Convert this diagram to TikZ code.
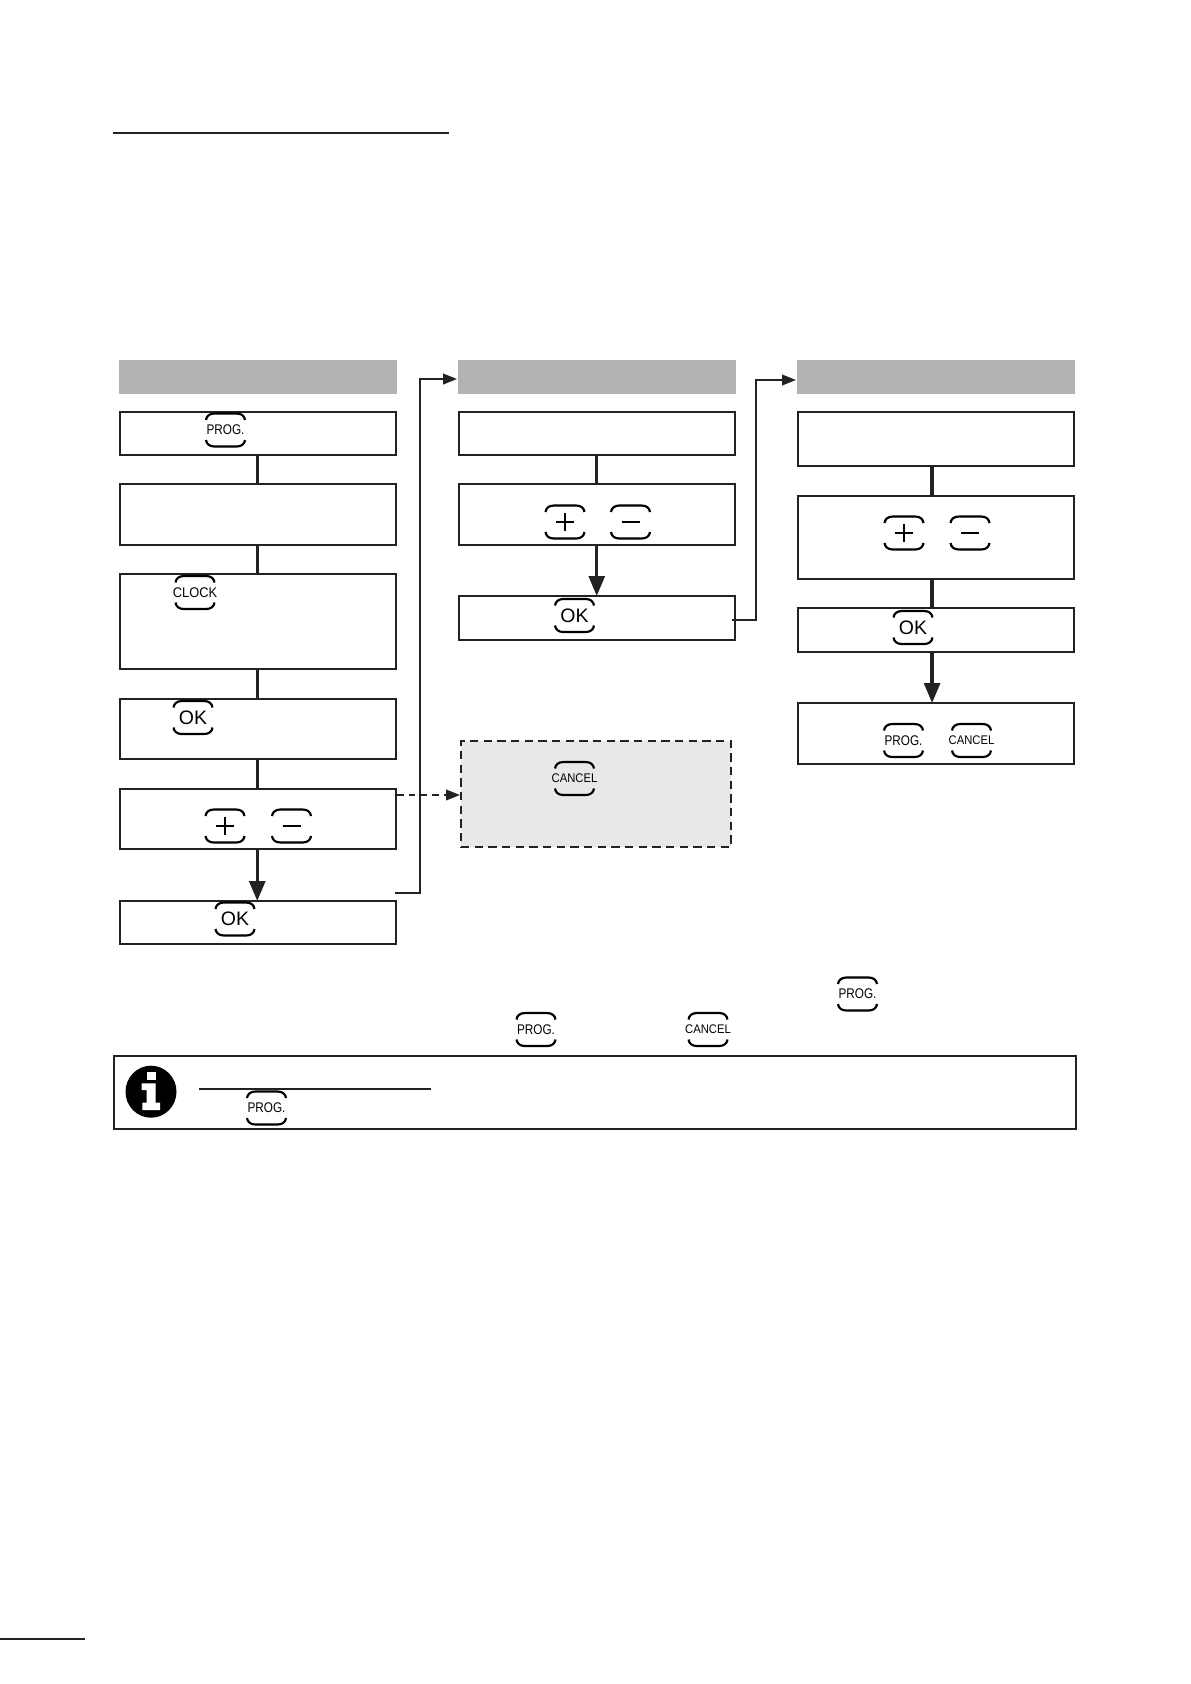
\documentclass[tikz,border=0pt]{standalone}
\usepackage{fontspec}
\setmainfont{Liberation Sans}
\usetikzlibrary{arrows.meta}
\definecolor{ink}{HTML}{222222}
\definecolor{hdr}{HTML}{B2B2B2}
\definecolor{dashfill}{HTML}{E8E8E8}
\tikzset{
  boxframe/.style={draw=ink,line width=1.2pt,fill=white,inner sep=0pt,outer sep=0pt,rectangle},
  hdrbar/.style={fill=hdr,draw=none,inner sep=0pt,outer sep=0pt,rectangle},
  dashbox/.style={draw=ink,line width=1.2pt,fill=dashfill,dash pattern=on 5pt off 3.2pt,inner sep=0pt,outer sep=0pt,rectangle},
  infobox/.style={draw=ink,line width=1.3pt,fill=white,inner sep=0pt,outer sep=0pt,rectangle},
  heavy/.style={draw=ink,line width=2pt},
  heavyarrow/.style={heavy,-{Triangle[length=12pt,width=9.5pt]}},
  thinarrow/.style={draw=ink,line width=1.1pt,-{Triangle[length=8.4pt,width=6.4pt]}},
  dasharrow/.style={draw=ink,line width=1pt,dash pattern=on 4pt off 3pt,-{Triangle[length=8.4pt,width=6.4pt]}},
  rulebar/.style={draw=ink,line width=1.1pt},
  capline/.style={draw=black,line width=1.3pt},
  keylabel/.style={inner sep=0pt,outer sep=0pt,text=black,transform shape},
  progkey/.style={keylabel,font=\fontsize{8.4pt}{8.4pt}\selectfont,xscale=.84},
  clockkey/.style={keylabel,font=\fontsize{8.4pt}{8.4pt}\selectfont,xscale=.92},
  cancelkey/.style={keylabel,font=\fontsize{7.5pt}{7.5pt}\selectfont,xscale=.9},
  okkey/.style={keylabel,font=\fontsize{11.7pt}{11.7pt}\selectfont},
  signline/.style={draw=black,line width=.8pt},
}
% position-only helper: name, x1,y1,x2,y2 (reference pixels), style
\newcommand{\bx}[6]{\node[#6,minimum width={(#4-#2)*0.6pt},minimum height={(#5-#3)*0.6pt}] (#1) at ({(#2+#4)/2},{(#3+#5)/2}) {};}
\newcommand{\caparcs}[2]{%
  \draw[capline] (#1-19.5,#2-10) .. controls (#1-19,#2-14) and (#1-16,#2-16.5) .. (#1-11,#2-16.5) -- (#1+11,#2-16.5) .. controls (#1+16,#2-16.5) and (#1+19,#2-14) .. (#1+19.5,#2-10);
  \draw[capline] (#1-19.5,#2+10) .. controls (#1-19,#2+14) and (#1-16,#2+16.5) .. (#1-11,#2+16.5) -- (#1+11,#2+16.5) .. controls (#1+16,#2+16.5) and (#1+19,#2+14) .. (#1+19.5,#2+10);}
\newcommand{\keycap}[5]{\caparcs{#2}{#3}\node[#5] (#1) at (#2,#3) {#4};}
\newcommand{\pluskey}[2]{\caparcs{#1}{#2}\draw[signline] (#1-9,#2) -- (#1+9,#2) (#1,#2-9) -- (#1,#2+9);}
\newcommand{\minuskey}[2]{\caparcs{#1}{#2}\draw[signline] (#1-9,#2) -- (#1+9,#2);}
\begin{document}
\begin{tikzpicture}[x=0.6pt,y=-0.6pt]
\useasboundingbox (0,0) rectangle (1191,1684);
\fill[white] (0,0) rectangle (1191,1684);
% rules
\coordinate (ruleA) at (113,133); \coordinate (ruleB) at (449,133);
\draw[rulebar] (ruleA) -- (ruleB);
\coordinate (footA) at (0,1639); \coordinate (footB) at (85,1639);
\draw[rulebar] (footA) -- (footB);
% headers
\bx{h1}{119}{360}{397}{394}{hdrbar}
\bx{h2}{458}{360}{736}{394}{hdrbar}
\bx{h3}{797}{360}{1075}{394}{hdrbar}
% column 1
\bx{a1}{119.5}{411.5}{396}{455}{boxframe}
\bx{a2}{119.5}{484}{396}{545}{boxframe}
\bx{a3}{119.5}{574}{396}{669}{boxframe}
\bx{a4}{119.5}{699}{396}{759}{boxframe}
\bx{a5}{119.5}{789}{396}{849}{boxframe}
\bx{a6}{119.5}{901}{396}{944}{boxframe}
% column 2
\bx{b1}{458.5}{411.5}{735}{455}{boxframe}
\bx{b2}{458.5}{484}{735}{545}{boxframe}
\bx{b3}{458.5}{596}{735}{640}{boxframe}
\bx{dash}{461}{741}{731}{847}{dashbox}
% column 3
\bx{c1}{797.5}{412}{1074}{466}{boxframe}
\bx{c2}{797.5}{496}{1074}{579}{boxframe}
\bx{c3}{797.5}{608}{1074}{652}{boxframe}
\bx{c4}{797.5}{703}{1074}{764}{boxframe}
% info
\bx{info}{114}{1056}{1076}{1129}{infobox}
% vertical connectors
\draw[heavy] ([xshift=-.3pt]a1.south) -- ([xshift=-.3pt]a2.north);
\draw[heavy] ([xshift=-.3pt]a2.south) -- ([xshift=-.3pt]a3.north);
\draw[heavy] ([xshift=-.3pt]a3.south) -- ([xshift=-.3pt]a4.north);
\draw[heavy] ([xshift=-.3pt]a4.south) -- ([xshift=-.3pt]a5.north);
\draw[heavyarrow] ([xshift=-.3pt]a5.south) -- ([xshift=-.3pt]a6.north);
\draw[heavy] (b1.south) -- (b2.north);
\draw[heavyarrow] (b2.south) -- (b3.north);
\draw[heavy] ([xshift=-2.2pt]c1.south) -- ([xshift=-2.2pt]c2.north);
\draw[heavy] ([xshift=-2.2pt]c2.south) -- ([xshift=-2.2pt]c3.north);
\draw[heavyarrow] ([xshift=-2.2pt]c3.south) -- ([xshift=-2.2pt]c4.north);
% feedback connectors
\coordinate (f1s) at (395,893); \coordinate (f1m) at (420,379); \coordinate (f1e) at (457,379);
\draw[thinarrow] (f1s) -| (f1m) -- (f1e);
\coordinate (f2s) at (732,620); \coordinate (f2m) at (756,380); \coordinate (f2e) at (796,380);
\draw[thinarrow] (f2s) -| (f2m) -- (f2e);
\coordinate (f3s) at (397,795); \coordinate (f3e) at (460,795);
\draw[dasharrow] (f3s) -- (f3e);
% keys
\keycap{kp1}{225.5}{430}{PROG.}{progkey}
\keycap{kc1}{195}{592.5}{CLOCK}{clockkey}
\keycap{ko1}{193}{717.5}{OK}{okkey}
\pluskey{225}{826}
\minuskey{291.5}{826}
\keycap{ko2}{235}{919}{OK}{okkey}
\pluskey{565}{522}
\minuskey{630.5}{522}
\keycap{ko3}{574.5}{615.5}{OK}{okkey}
\keycap{kx1}{574.5}{778.5}{CANCEL}{cancelkey}
\pluskey{904}{533}
\minuskey{970}{533}
\keycap{ko4}{913}{627.5}{OK}{okkey}
\keycap{kp2}{903.5}{740.5}{PROG.}{progkey}
\keycap{kx2}{971.5}{740.5}{CANCEL}{cancelkey}
\keycap{kp3}{857.5}{994}{PROG.}{progkey}
\keycap{kp4}{536}{1029.5}{PROG.}{progkey}
\keycap{kx3}{708}{1029.5}{CANCEL}{cancelkey}
% info icon
\fill[black] (151,1091.7) ellipse [x radius=25.5,y radius=26];
\fill[white] (146.7,1071.7) rectangle (155.7,1079.5);
\fill[white] (141.7,1083.3) -- (155.7,1083.3) -- (155.7,1102.7) -- (160,1102.7) -- (160,1110) -- (142.3,1110) -- (142.3,1102.7) -- (146.7,1102.7) -- (146.7,1090) -- (141.7,1090) -- cycle;
\coordinate (ulA) at (199,1089); \coordinate (ulB) at (431,1089);
\draw[rulebar] (ulA) -- (ulB);
\keycap{kp5}{266.5}{1108}{PROG.}{progkey}
\end{tikzpicture}
\end{document}
